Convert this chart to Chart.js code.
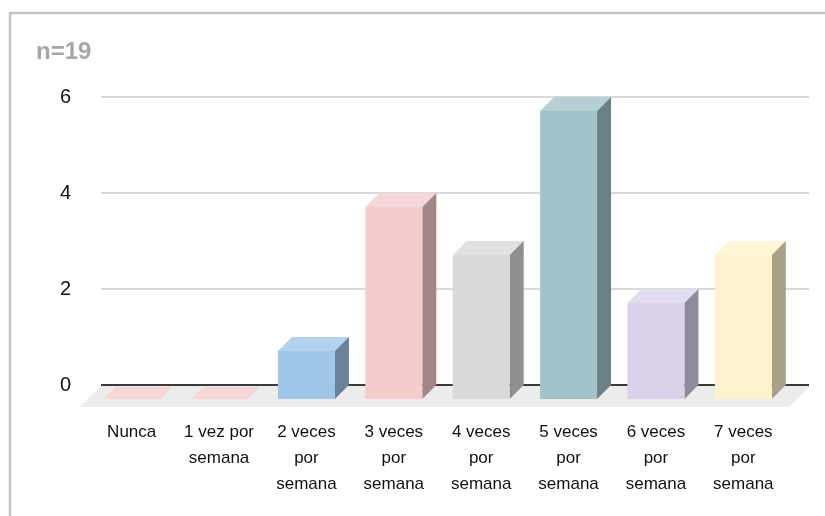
<!DOCTYPE html>
<html>
<head>
<meta charset="utf-8">
<script src="https://cdn.jsdelivr.net/npm/chart.js@4.4.1/dist/chart.umd.min.js"></script>
<style>
  html, body { margin: 0; padding: 0; background: #ffffff; }
  #wrap { width: 825px; height: 516px; }
</style>
</head>
<body>
<div id="wrap"><canvas id="chart" width="825" height="516"></canvas></div>
<script>
// Weekly frequency categories (multi-line axis labels)
const categories = [
  ['Nunca'],
  ['1 vez por', 'semana'],
  ['2 veces', 'por', 'semana'],
  ['3 veces', 'por', 'semana'],
  ['4 veces', 'por', 'semana'],
  ['5 veces', 'por', 'semana'],
  ['6 veces', 'por', 'semana'],
  ['7 veces', 'por', 'semana']
];
// Number of respondents per category
const counts = [0, 0, 1, 4, 3, 6, 2, 3];
const sampleLabel = 'n=19';
const yMax = 6;
const yStep = 2;

// Front-face colour of each box
const faceColors = ['#f4cccc', '#f4cccc', '#9fc5e8', '#f4cccc', '#d9d9d9', '#a2c4c9', '#d9d2e9', '#fff2cc'];

const DEPTH = 14;         // box depth in px (drawn diagonally up-right)
const FONT = '"Liberation Sans", Arial, sans-serif';

function parseHex(h) {
  return [1, 3, 5].map(i => parseInt(h.substr(i, 2), 16));
}
function rgb(c) { return 'rgb(' + c.map(v => Math.round(v)).join(',') + ')'; }
function lighten(h, f) { return rgb(parseHex(h).map(v => v + (255 - v) * f)); }
function darken(h, f) { return rgb(parseHex(h).map(v => v * f)); }

const box3d = {
  id: 'box3d',
  beforeDraw(chart) {
    const { ctx, chartArea: a, scales: { y } } = chart;
    ctx.save();
    // outer frame
    ctx.strokeStyle = '#c4c4c4';
    ctx.lineWidth = 2.5;
    ctx.strokeRect(10, 13, 900, 700);
    // sample size caption
    ctx.fillStyle = '#a6a6a6';
    ctx.font = 'bold 24px ' + FONT;
    ctx.textAlign = 'left';
    ctx.textBaseline = 'middle';
    ctx.fillText(sampleLabel, 36, 52);
    // floor
    const y0 = y.getPixelForValue(0);
    ctx.fillStyle = '#ececec';
    ctx.beginPath();
    ctx.moveTo(a.left - 1, y0 + 1);
    ctx.lineTo(a.right + 9, y0 + 1);
    ctx.lineTo(a.right - 12, y0 + 22);
    ctx.lineTo(a.left - 22, y0 + 22);
    ctx.closePath();
    ctx.fill();
    // back-wall gridlines
    y.ticks.forEach(t => {
      const py = Math.round(y.getPixelForValue(t.value));
      ctx.beginPath();
      if (t.value === 0) {
        ctx.strokeStyle = '#3a3a3a';
        ctx.lineWidth = 2;
      } else {
        ctx.strokeStyle = '#cccccc';
        ctx.lineWidth = 1.5;
      }
      ctx.moveTo(a.left - 1, py);
      ctx.lineTo(a.right + 8, py);
      ctx.stroke();
    });
    ctx.restore();
  },
  afterDatasetsDraw(chart) {
    const { ctx } = chart;
    const meta = chart.getDatasetMeta(0);
    ctx.save();
    meta.data.forEach((bar, i) => {
      const p = bar.getProps(['x', 'y', 'base', 'width'], true);
      const col = faceColors[i];
      const fl = p.x - p.width / 2 - DEPTH;
      const fr = p.x + p.width / 2 - DEPTH;
      const ft = p.y + DEPTH;
      const fb = p.base + DEPTH;
      const flat = fb - ft < 0.5;
      // top face (a flat box lies on the floor, in front of the base line)
      const back = flat ? DEPTH - 2 : DEPTH;
      ctx.fillStyle = lighten(col, 0.22);
      ctx.beginPath();
      ctx.moveTo(fl, ft);
      ctx.lineTo(fr, ft);
      ctx.lineTo(fr + back, ft - back);
      ctx.lineTo(fl + back, ft - back);
      ctx.closePath();
      ctx.fill();
      if (!flat) {
        // side face
        ctx.fillStyle = darken(col, 0.66);
        ctx.beginPath();
        ctx.moveTo(fr, ft);
        ctx.lineTo(fr + DEPTH, ft - DEPTH);
        ctx.lineTo(fr + DEPTH, fb - DEPTH);
        ctx.lineTo(fr, fb);
        ctx.closePath();
        ctx.fill();
        // front face
        ctx.fillStyle = col;
        ctx.fillRect(fl, ft, fr - fl, fb - ft);
      }
    });
    ctx.restore();
  }
};

new Chart(document.getElementById('chart'), {
  type: 'bar',
  data: {
    labels: categories,
    datasets: [{
      data: counts,
      backgroundColor: 'rgba(0,0,0,0)',
      borderWidth: 0,
      barPercentage: 0.652,
      categoryPercentage: 1
    }]
  },
  options: {
    responsive: false,
    animation: false,
    layout: { padding: { top: 97, right: 24, bottom: 0, left: 0 } },
    plugins: {
      legend: { display: false },
      tooltip: { enabled: false },
      title: { display: false }
    },
    scales: {
      x: {
        grid: { display: false, drawTicks: false },
        border: { display: false },
        ticks: {
          color: '#111111',
          font: { family: FONT, size: 17, lineHeight: 1.53 },
          padding: 34,
          labelOffset: -DEPTH,
          maxRotation: 0,
          minRotation: 0,
          autoSkip: false
        },
        afterFit(scale) { scale.height = 131; }
      },
      y: {
        min: 0,
        max: yMax,
        grid: { display: false, drawTicks: false },
        border: { display: false },
        ticks: {
          stepSize: yStep,
          color: '#111111',
          font: { family: FONT, size: 20 },
          padding: 31
        },
        afterFit(scale) { scale.width = 102; }
      }
    }
  },
  plugins: [box3d]
});
</script>
</body>
</html>
